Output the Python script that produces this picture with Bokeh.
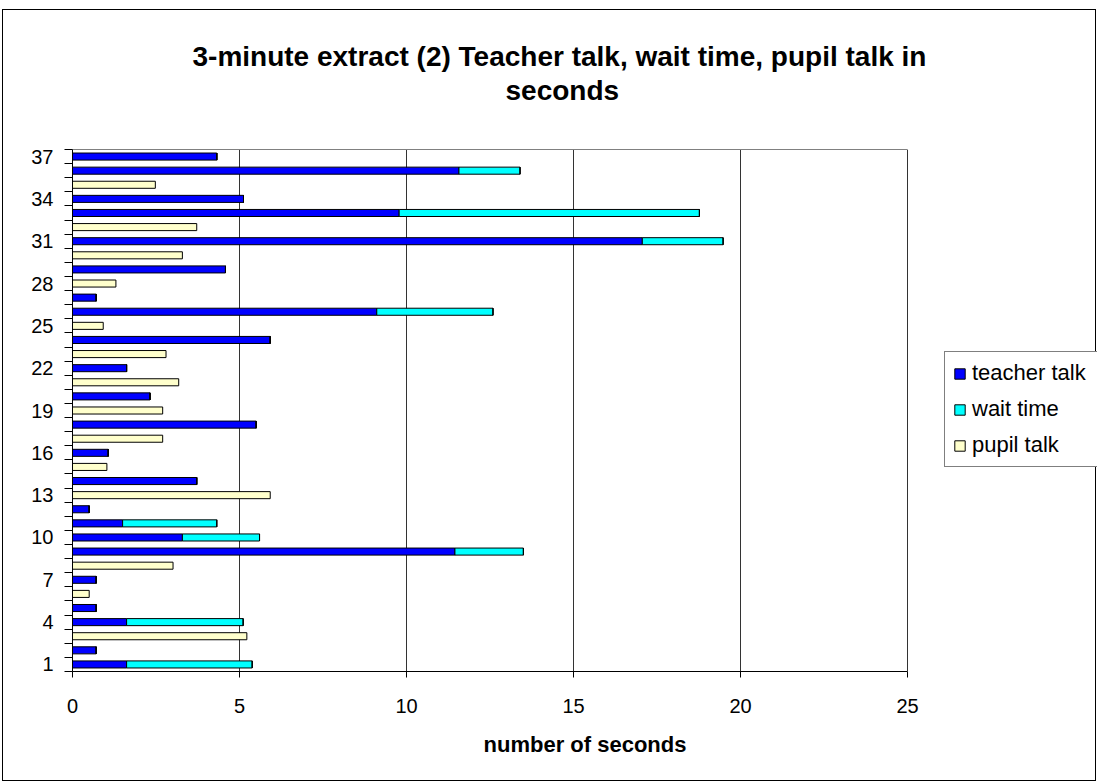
from bokeh.plotting import figure
from bokeh.models import FixedTicker, Legend, LegendItem, Title, ColumnDataSource, LinearAxis
from bokeh.embed import file_html
from bokeh.resources import INLINE

categories = list(range(1, 38))
teacher = [1.62, 0.71, 0, 1.62, 0.71, 0, 0.71, 0, 11.45, 3.29, 1.5, 0.5, 0, 3.72, 0, 1.07, 0, 5.5, 0,
           2.32, 0, 1.62, 0, 5.92, 0, 9.11, 0.71, 0, 4.58, 0, 17.06, 0, 9.78, 5.12, 0, 11.57, 4.32]
wait = [3.76, 0, 0, 3.49, 0, 0, 0, 0, 2.05, 2.31, 2.82, 0, 0, 0, 0, 0, 0, 0, 0,
        0, 0, 0, 0, 0, 0, 3.48, 0, 0, 0, 0, 2.42, 0, 8.99, 0, 0, 1.83, 0]
pupil = [0, 0, 5.22, 0, 0, 0.5, 0, 3.01, 0, 0, 0, 0, 5.92, 0, 1.03, 0, 2.7, 0, 2.7,
         0, 3.18, 0, 2.8, 0, 0.92, 0, 0, 1.3, 0, 3.29, 0, 3.72, 0, 0, 2.48, 0, 0]
series = ["teacher talk", "wait time", "pupil talk"]
colors = ["#0000FF", "#00FFFF", "#FFFFCC"]
x_ticks = [0, 5, 10, 15, 20, 25]
y_label_ticks = list(range(1, 38, 3))
title_line1 = "3-minute extract (2) Teacher talk, wait time, pupil talk in"
title_line2 = "seconds"

FONT = "Liberation Sans"

# layout: plot area 0..25 spans 835 px; frame extended to the right to host the legend
AXIS_MAX = 25
AREA_PX = 835
FRAME_PX = 1025
x_end = AXIS_MAX * FRAME_PX / AREA_PX

source = ColumnDataSource(dict(y=categories, **{series[0]: teacher, series[1]: wait, series[2]: pupil}))

p = figure(width=1094, height=772, output_backend="svg", toolbar_location=None,
           x_range=(0, x_end), y_range=(0.5, 37.5), title=None,
           min_border_left=69, min_border_right=0, min_border_top=139, min_border_bottom=111)
p.styles = {"border": "1px solid #000000", "margin-left": "2px", "margin-top": "9px"}

renderers = p.hbar_stack(series, y="y", height=0.5, color=colors, line_color="#000000",
                         line_width=1, source=source)

p.xaxis.ticker = FixedTicker(ticks=x_ticks)
p.xaxis.bounds = (0, AXIS_MAX)
p.xaxis.major_tick_out = 6
p.xaxis.major_tick_in = 0
p.xaxis.major_label_standoff = 21
p.xaxis.axis_label = "number of seconds"
p.xaxis.axis_label_text_font = FONT
p.xaxis.axis_label_text_font_style = "bold"
p.xaxis.axis_label_text_font_size = "22px"
p.xaxis.axis_label_text_color = "#000000"
p.xaxis.axis_label_standoff = 16
p.xaxis.minor_tick_line_color = None

p.yaxis.ticker = FixedTicker(ticks=y_label_ticks, minor_ticks=[c + 0.5 for c in range(0, 38)])
p.yaxis.major_tick_out = 0
p.yaxis.major_tick_in = 0
p.yaxis.minor_tick_out = 8
p.yaxis.minor_tick_in = 0
p.yaxis.major_label_standoff = 11
p.yaxis.minor_tick_line_color = "#000000"

for ax in (p.xaxis, p.yaxis):
    ax.major_label_text_font = FONT
    ax.major_label_text_font_size = "20px"
    ax.major_label_text_color = "#000000"
    ax.axis_line_color = "#000000"
    ax.major_tick_line_color = "#000000"

# top border of the plot area
top = LinearAxis(ticker=FixedTicker(ticks=[]), bounds=(0, AXIS_MAX), axis_line_color="#808080",
                 major_tick_out=0, major_tick_in=0, minor_tick_out=0, minor_tick_in=0,
                 major_label_text_font_size="0px")
p.add_layout(top, "above")

p.xgrid.ticker = FixedTicker(ticks=x_ticks[1:])
p.xgrid.grid_line_color = "#333333"
p.ygrid.grid_line_color = None
p.outline_line_color = None
p.background_fill_color = "#FFFFFF"
p.border_fill_color = "#FFFFFF"

legend = Legend(items=[LegendItem(label=s, renderers=[r]) for s, r in zip(series, renderers)],
                location=(872, 204), label_text_font=FONT, label_text_font_size="22px",
                label_text_color="#000000",
                glyph_width=13, glyph_height=13, label_height=22, label_width=118,
                spacing=10, padding=8,
                label_standoff=6, border_line_color="#000000", border_line_width=1,
                background_fill_alpha=1.0, margin=0)
p.add_layout(legend, "center")

t2 = Title(text=title_line2, align="left", offset=433, text_font=FONT, text_font_style="bold",
           text_font_size="28px", text_color="#000000", standoff=88)
t1 = Title(text=title_line1, align="left", offset=120, text_font=FONT, text_font_style="bold",
           text_font_size="28px", text_color="#000000", standoff=-86)
p.add_layout(t2, "above")
p.add_layout(t1, "above")

open("out.html", "w").write(file_html(p, INLINE))
